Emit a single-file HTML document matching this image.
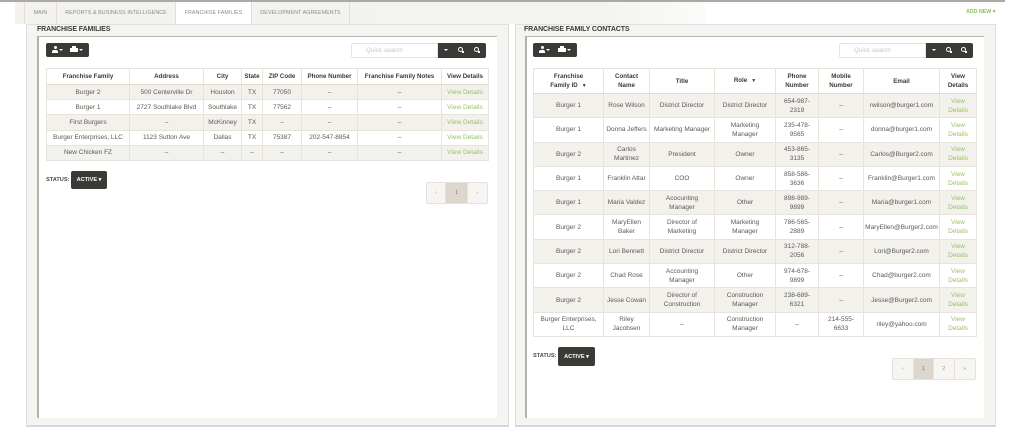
<!DOCTYPE html>
<html><head><meta charset="utf-8">
<style>
*{box-sizing:border-box;margin:0;padding:0}
body{width:1024px;height:442px;background:#fff;font-family:"Liberation Sans",Arial,sans-serif;color:#555;position:relative;overflow:hidden}
.abs{position:absolute}
.topline{left:0;top:0;width:1005px;height:2px;background:#a9a9a6}
.band{left:15px;top:2px;width:690px;height:22px;background:linear-gradient(90deg,#f3f2ee 0%,#f4f3ef 85%,#fbfbf9 100%)}
.tab{top:2px;height:22px;border-right:1px solid #e2ded6;font-size:5.3px;color:#8a8a86;display:flex;align-items:center;justify-content:center;background:#f3f2ee;letter-spacing:0.1px}
.tab.act{background:#fff}
.addnew{left:966px;top:9px;font-size:5.3px;color:#8fc15a;font-weight:bold}
.panel{background:#f5f4f0;border:1px solid #dcdfe4;border-bottom:2px solid #cfd8e4}
.ptitle{font-size:7px;font-weight:bold;color:#3a3a38;letter-spacing:-0.1px}
.inner{background:#fff;border-top:1px solid #b9b8b3;border-left:2px solid #b2b1ac}
.dk{background:#3b3a36;border-radius:2px}
.srch{background:#fff;border:1px solid #e6e3dc;border-radius:2px 0 0 2px;font-size:6.3px;color:#c9c6c0;padding-left:14px;display:flex;align-items:center}
table{border-collapse:collapse;table-layout:fixed;position:absolute}
td,th{border:1px solid #e8e4dc;text-align:center;vertical-align:middle;font-size:6.5px;white-space:nowrap;overflow:hidden;color:#5a5a58;line-height:9px}
th{font-weight:bold;font-size:6.2px;color:#3a3a38;background:#fff;border-bottom:1.5px solid #e2dccf}
tr.o td{background:#f3f1ec}
tr.e td{background:#fff}
.g{color:#97c462}
.stat{font-size:5.6px;font-weight:bold;color:#4a4a48}
.btn{color:#fff;font-size:5.6px;font-weight:bold;display:flex;align-items:center;justify-content:center}
.pg{border:1px solid #e6e2da;background:#f6f5f1;border-radius:2px;display:flex}
.pg div{height:100%;display:flex;align-items:center;justify-content:center;font-size:5.5px;color:#999;border-right:1px solid #e6e2da}
.pg div:last-child{border-right:none}
.pg .a{background:#ddd6cc;color:#777}
.ic{position:absolute;background:#fff}
.car{position:absolute;width:0;height:0;border-left:2px solid transparent;border-right:2px solid transparent;border-top:2px solid #fff}
.flt{font-size:5px;margin-left:4px}
</style></head><body>
<div class="abs topline"></div>
<div class="abs band"></div>
<div class="abs tab" style="left:24px;width:33px;border-left:1px solid #e2ded6">MAIN</div>
<div class="abs tab" style="left:57px;width:119px">REPORTS &amp; BUSINESS INTELLIGENCE</div>
<div class="abs tab act" style="left:176px;width:76px">FRANCHISE FAMILIES</div>
<div class="abs tab" style="left:252px;width:98px">DEVELOPMENT AGREEMENTS</div>
<div class="abs addnew">ADD NEW ▾</div>

<!-- LEFT PANEL -->
<div class="abs panel" style="left:26px;top:24px;width:483px;height:403px"></div>
<div class="abs ptitle" style="left:37px;top:26px">FRANCHISE FAMILIES</div>
<div class="abs inner" style="left:37px;top:36px;width:460px;height:382px"></div>
<div class="abs dk" style="left:46px;top:43px;width:43px;height:14px"></div>
<div class="ic" style="left:54px;top:46px;width:3px;height:3px;border-radius:50%"></div>
<div class="ic" style="left:52px;top:50px;width:6px;height:3px;border-radius:2px 2px 0 0"></div>
<div class="car" style="left:59px;top:49px"></div>
<div class="ic" style="left:72px;top:46px;width:4px;height:2px"></div>
<div class="ic" style="left:70px;top:48px;width:8px;height:4px"></div>
<div class="car" style="left:79px;top:49px"></div>
<div class="abs srch" style="left:351px;top:43px;width:87px;height:15px">Quick search</div>
<div class="abs dk" style="left:438px;top:43px;width:48px;height:15px;border-radius:0 2px 2px 0"></div>
<div class="car" style="left:444px;top:49px"></div>
<div class="ic" style="left:458px;top:47px;width:5px;height:5px;border-radius:50%;background:transparent;border:1.3px solid #fff"></div>
<div class="ic" style="left:462px;top:51px;width:2px;height:2px"></div>
<div class="ic" style="left:474px;top:47px;width:5px;height:5px;border-radius:50%;background:transparent;border:1.3px solid #fff"></div>
<div class="ic" style="left:478px;top:51px;width:2px;height:2px"></div>

<table style="left:46px;top:68px;width:442px">
<colgroup><col style="width:83px"><col style="width:74px"><col style="width:38px"><col style="width:21px"><col style="width:39px"><col style="width:56px"><col style="width:84px"><col style="width:47px"></colgroup>
<tr style="height:16px"><th>Franchise Family</th><th>Address</th><th>City</th><th>State</th><th>ZIP Code</th><th>Phone Number</th><th>Franchise Family Notes</th><th>View Details</th></tr>
<tr class="o" style="height:15.2px"><td>Burger 2</td><td>500 Centerville Dr</td><td>Houston</td><td>TX</td><td>77050</td><td>–</td><td>–</td><td class="g">View Details</td></tr>
<tr class="e" style="height:15.2px"><td>Burger 1</td><td>2727 Southlake Blvd</td><td>Southlake</td><td>TX</td><td>77562</td><td>–</td><td>–</td><td class="g">View Details</td></tr>
<tr class="o" style="height:15.2px"><td>First Burgers</td><td>–</td><td>McKinney</td><td>TX</td><td>–</td><td>–</td><td>–</td><td class="g">View Details</td></tr>
<tr class="e" style="height:15.2px"><td>Burger Enterprises, LLC</td><td>1123 Sutton Ave</td><td>Dallas</td><td>TX</td><td>75387</td><td>202-547-8854</td><td>–</td><td class="g">View Details</td></tr>
<tr class="o" style="height:15.2px"><td>New Chicken FZ</td><td>–</td><td>–</td><td>–</td><td>–</td><td>–</td><td>–</td><td class="g">View Details</td></tr>
</table>

<div class="abs stat" style="left:46px;top:177px">STATUS:</div>
<div class="abs dk btn" style="left:71px;top:171px;width:36px;height:18px">ACTIVE ▾</div>
<div class="abs pg" style="left:426px;top:182px;width:62px;height:22px"><div style="width:20px">‹</div><div class="a" style="width:22px">1</div><div style="width:20px">›</div></div>

<!-- RIGHT PANEL -->
<div class="abs panel" style="left:515px;top:24px;width:481px;height:403px"></div>
<div class="abs ptitle" style="left:524px;top:26px">FRANCHISE FAMILY CONTACTS</div>
<div class="abs inner" style="left:525px;top:36px;width:459px;height:382px"></div>
<div class="abs dk" style="left:533px;top:43px;width:44px;height:14px"></div>
<div class="ic" style="left:541px;top:46px;width:3px;height:3px;border-radius:50%"></div>
<div class="ic" style="left:539px;top:50px;width:6px;height:3px;border-radius:2px 2px 0 0"></div>
<div class="car" style="left:546px;top:49px"></div>
<div class="ic" style="left:560px;top:46px;width:4px;height:2px"></div>
<div class="ic" style="left:558px;top:48px;width:8px;height:4px"></div>
<div class="car" style="left:567px;top:49px"></div>
<div class="abs srch" style="left:839px;top:43px;width:87px;height:15px">Quick search</div>
<div class="abs dk" style="left:926px;top:43px;width:47px;height:15px;border-radius:0 2px 2px 0"></div>
<div class="car" style="left:932px;top:49px"></div>
<div class="ic" style="left:946px;top:47px;width:5px;height:5px;border-radius:50%;background:transparent;border:1.3px solid #fff"></div>
<div class="ic" style="left:950px;top:51px;width:2px;height:2px"></div>
<div class="ic" style="left:961px;top:47px;width:5px;height:5px;border-radius:50%;background:transparent;border:1.3px solid #fff"></div>
<div class="ic" style="left:965px;top:51px;width:2px;height:2px"></div>

<table style="left:533px;top:68px;width:443px">
<colgroup><col style="width:70px"><col style="width:46px"><col style="width:65px"><col style="width:61px"><col style="width:43px"><col style="width:45px"><col style="width:76px"><col style="width:37px"></colgroup>
<tr style="height:25px"><th>Franchise<br>Family ID<span class="flt">▼</span></th><th>Contact<br>Name</th><th>Title</th><th>Role<span class="flt">▼</span></th><th>Phone<br>Number</th><th>Mobile<br>Number</th><th>Email</th><th>View<br>Details</th></tr>
<tr class="o" style="height:24.3px"><td>Burger 1</td><td>Rose Wilson</td><td>District Director</td><td>District Director</td><td>654-987-<br>2319</td><td>–</td><td>rwilson@burger1.com</td><td class="g">View<br>Details</td></tr>
<tr class="e" style="height:24.3px"><td>Burger 1</td><td>Donna Jeffers</td><td>Marketing Manager</td><td>Marketing<br>Manager</td><td>235-478-<br>9565</td><td>–</td><td>donna@burger1.com</td><td class="g">View<br>Details</td></tr>
<tr class="o" style="height:24.3px"><td>Burger 2</td><td>Carlos<br>Martinez</td><td>President</td><td>Owner</td><td>453-865-<br>3135</td><td>–</td><td>Carlos@Burger2.com</td><td class="g">View<br>Details</td></tr>
<tr class="e" style="height:24.3px"><td>Burger 1</td><td>Franklin Attar</td><td>COO</td><td>Owner</td><td>858-586-<br>3636</td><td>–</td><td>Franklin@Burger1.com</td><td class="g">View<br>Details</td></tr>
<tr class="o" style="height:24.3px"><td>Burger 1</td><td>Maria Valdez</td><td>Acocunting<br>Manager</td><td>Other</td><td>898-989-<br>9899</td><td>–</td><td>Maria@burger1.com</td><td class="g">View<br>Details</td></tr>
<tr class="e" style="height:24.3px"><td>Burger 2</td><td>MaryEllen<br>Baker</td><td>Director of<br>Marketing</td><td>Marketing<br>Manager</td><td>786-565-<br>2889</td><td>–</td><td>MaryEllen@Burger2.com</td><td class="g">View<br>Details</td></tr>
<tr class="o" style="height:24.3px"><td>Burger 2</td><td>Lori Bennett</td><td>District Director</td><td>District Director</td><td>312-788-<br>2056</td><td>–</td><td>Lori@Burger2.com</td><td class="g">View<br>Details</td></tr>
<tr class="e" style="height:24.3px"><td>Burger 2</td><td>Chad Rose</td><td>Accounting<br>Manager</td><td>Other</td><td>974-678-<br>9899</td><td>–</td><td>Chad@burger2.com</td><td class="g">View<br>Details</td></tr>
<tr class="o" style="height:24.3px"><td>Burger 2</td><td>Jesse Cowan</td><td>Director of<br>Construction</td><td>Construction<br>Manager</td><td>238-689-<br>6321</td><td>–</td><td>Jesse@Burger2.com</td><td class="g">View<br>Details</td></tr>
<tr class="e" style="height:24.3px"><td>Burger Enterprises,<br>LLC</td><td>Riley<br>Jacobsen</td><td>–</td><td>Construction<br>Manager</td><td>–</td><td>214-555-<br>6633</td><td>riley@yahoo.com</td><td class="g">View<br>Details</td></tr>
</table>

<div class="abs stat" style="left:533px;top:353px">STATUS:</div>
<div class="abs dk btn" style="left:558px;top:347px;width:37px;height:19px">ACTIVE ▾</div>
<div class="abs pg" style="left:892px;top:358px;width:84px;height:22px"><div style="width:21px">‹</div><div class="a" style="width:21px">1</div><div style="width:21px">2</div><div style="width:21px">»</div></div>
</body></html>
